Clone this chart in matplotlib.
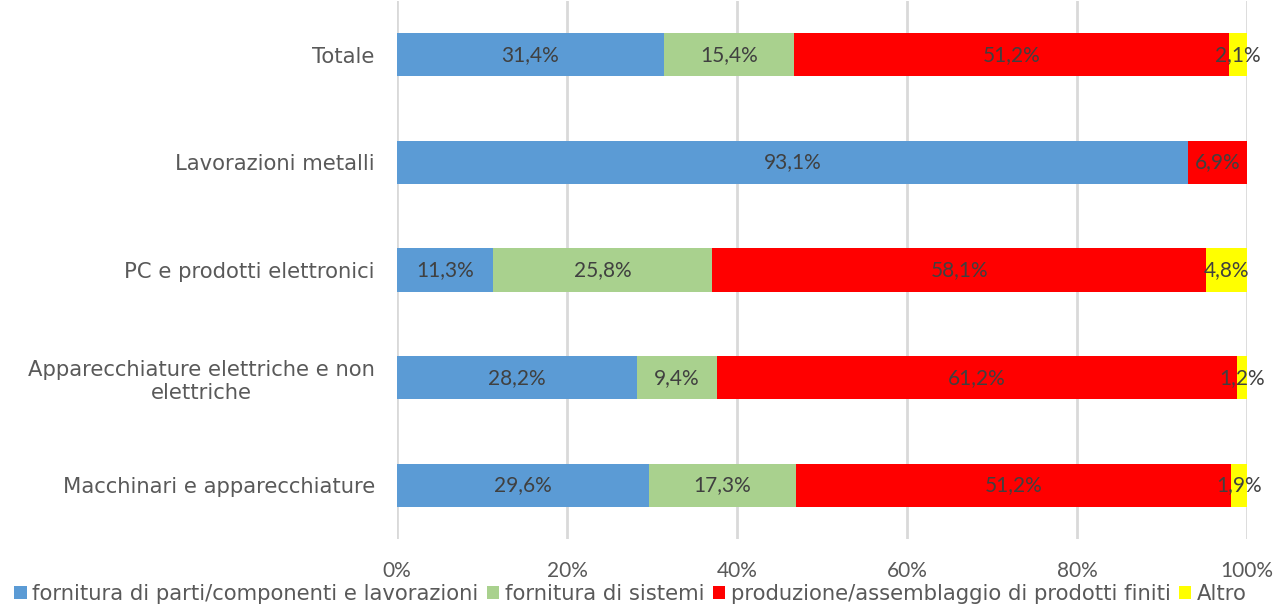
import matplotlib
matplotlib.use("Agg")
import matplotlib.pyplot as plt
import numpy as np

categories = ["Totale", "Lavorazioni metalli", "PC e prodotti elettronici",
              "Apparecchiature elettriche e non\nelettriche", "Macchinari e apparecchiature"]
series_names = ["fornitura di parti/componenti e lavorazioni", "fornitura di sistemi",
                "produzione/assemblaggio di prodotti finiti", "Altro"]
parti = [31.4, 93.1, 11.3, 28.2, 29.6]
sistemi = [15.4, 0.0, 25.8, 9.4, 17.3]
produzione = [51.2, 6.9, 58.1, 61.2, 51.2]
altro = [2.1, 0.0, 4.8, 1.2, 1.9]
xticks = [0, 20, 40, 60, 80, 100]
xtick_labels = ["0%", "20%", "40%", "60%", "80%", "100%"]

colors = ["#5B9BD5", "#A9D18E", "#FF0000", "#FFFF00"]

data = np.array([parti, sistemi, produzione, altro])
totals = data.sum(axis=0)
norm = data / totals * 100

fig = plt.figure(figsize=(12.76, 6.06), dpi=100)
ax = fig.add_axes([397/1276, 1-539/606, 850/1276, 538/606])

y = np.arange(len(categories))
left = np.zeros(len(categories))
for i, name in enumerate(series_names):
    ax.barh(y, norm[i], left=left, height=0.4, color=colors[i], label=name, zorder=2)
    for j in range(len(categories)):
        if data[i][j] > 0:
            ax.text(left[j] + norm[i][j] / 2, y[j], f"{data[i][j]:.1f}%".replace(".", ","),
                    ha="center", va="center", fontsize=15, color="#404040",
                    family="Lato", zorder=3)
    left += norm[i]

ax.set_xlim(0, 100)
ax.set_ylim(len(categories) - 0.5, -0.5)
ax.set_yticks(y)
ax.set_yticklabels(categories, fontsize=15.2, color="#595959", family="DejaVu Sans",
                   multialignment="center")
ax.set_xticks(xticks)
ax.set_xticklabels(xtick_labels, fontsize=15, color="#595959", family="Lato")
ax.tick_params(axis="both", length=0)
ax.tick_params(axis="y", pad=16)
ax.tick_params(axis="x", pad=16)
for s in ax.spines.values():
    s.set_visible(False)
ax.grid(axis="x", color="#D9D9D9", linewidth=2, zorder=0)
ax.set_axisbelow(True)

fig.legend(loc="center", bbox_to_anchor=(0.494, 0.02), ncol=4, frameon=False,
           prop={"family": "DejaVu Sans", "size": 15.2}, handlelength=0.6, handleheight=0.6,
           handletextpad=0.25, columnspacing=0.4, labelcolor="#595959", borderpad=0)

fig.savefig("out.png", dpi=100)
